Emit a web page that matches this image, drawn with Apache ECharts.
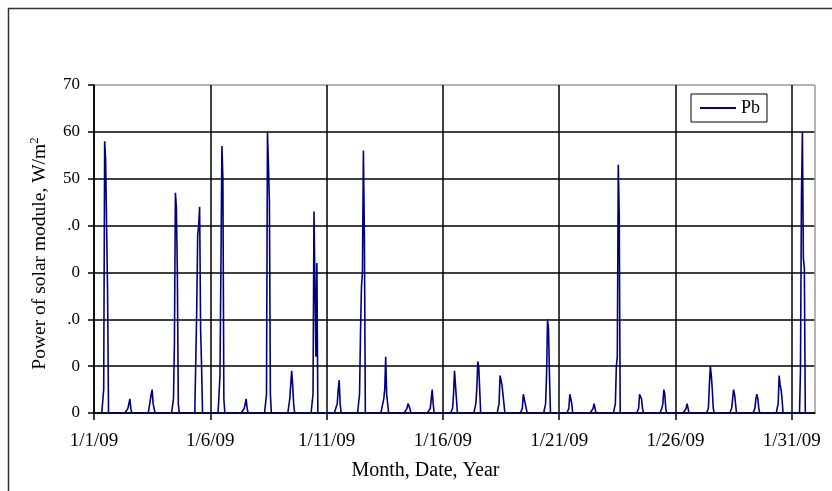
<!DOCTYPE html>
<html>
<head>
<meta charset="utf-8">
<script src="https://cdn.jsdelivr.net/npm/echarts@6/dist/echarts.min.js"></script>
<style>
  html, body { margin: 0; padding: 0; background: #fff; }
  #chart { width: 832px; height: 491px; }
</style>
</head>
<body>
<div id="chart"></div>
<script>
// hours of the day the daily values below belong to
var hours = [9, 10, 11, 12, 13, 14, 15, 16, 17];

// power of solar module (W/m2), one small list per day of January 2009
var pbDaily = [
  [0, 5, 58, 54, 40, 26, 0, 0, 0],   // 1/1
  [0, 0, 1, 1, 3, 1, 0, 0, 0],
  [0, 0, 4, 5, 2, 1, 0, 0, 0],
  [0, 3, 15, 47, 44, 30, 2, 0, 0],
  [0, 22, 38, 40, 44, 18, 10, 0, 0],
  [0, 8, 32, 57, 50, 3, 0, 0, 0],    // 1/6
  [0, 0, 1, 2, 3, 1, 0, 0, 0],
  [0, 4, 60, 53, 45, 4, 0, 0, 0],
  [0, 3, 6, 9, 6, 2, 0, 0, 0],
  [0, 4, 43, 43, 12, 32, 0, 0, 0],
  [0, 0, 2, 5, 7, 2, 0, 0, 0],       // 1/11
  [0, 4, 17, 27, 30, 56, 38, 0, 0],
  [0, 0, 3, 5, 12, 4, 2, 0, 0],
  [0, 0, 1, 2, 2, 1, 0, 0, 0],
  [0, 0, 1, 1, 5, 2, 0, 0, 0],
  [0, 1, 4, 9, 6, 3, 0, 0, 0],       // 1/16
  [0, 2, 5, 11, 10, 5, 0, 0, 0],
  [0, 2, 8, 7, 6, 4, 2, 0, 0],
  [0, 1, 4, 3, 2, 1, 0, 0, 0],
  [0, 2, 8, 20, 18, 8, 0, 0, 0],
  [0, 1, 4, 3, 2, 0, 0, 0, 0],       // 1/21
  [0, 0, 1, 2, 1, 0, 0, 0, 0],
  [0, 2, 10, 12, 53, 42, 0, 0, 0],
  [0, 1, 4, 4, 3, 1, 0, 0, 0],
  [0, 1, 2, 5, 4, 1, 0, 0, 0],
  [0, 0, 1, 2, 1, 0, 0, 0, 0],       // 1/26
  [0, 1, 6, 10, 8, 5, 1, 0, 0],
  [0, 1, 3, 5, 4, 2, 0, 0, 0],
  [0, 1, 3, 4, 3, 1, 0, 0, 0],
  [0, 2, 8, 6, 5, 3, 0, 0, 0],
  [9, 46, 60, 33, 31, 0, 0, 0, 0]    // 1/31
];

// tick labels as printed on the axes
var dateLabels = ['1/1/09', '1/6/09', '1/11/09', '1/16/09', '1/21/09', '1/26/09', '1/31/09'];
var yTickLabels = ['0', '0', '.0', '0', '.0', '50', '60', '70'];

// build [day, value] points, night stays at zero
var seriesData = [];
for (var d = 0; d < pbDaily.length; d++) {
  seriesData.push([d + 8 / 24, 0]);
  for (var i = 0; i < hours.length; i++) {
    seriesData.push([d + hours[i] / 24, pbDaily[d][i]]);
  }
  seriesData.push([d + 18 / 24, 0]);
}

var font = 'Liberation Serif, Times New Roman, serif';
var myChart = echarts.init(document.getElementById('chart'), null, { renderer: 'canvas' });

var option = {
  animation: false,
  backgroundColor: '#fff',
  grid: { left: 94, top: 85, right: 17, bottom: 78, containLabel: false },
  graphic: [{
    type: 'rect',
    shape: { x: 8.5, y: 8.5, width: 900, height: 600 },
    style: { fill: 'none', stroke: '#333', lineWidth: 1.5 },
    silent: true
  }],
  legend: {
    left: 691, top: 94,
    orient: 'vertical',
    backgroundColor: '#fff',
    borderColor: '#000',
    borderWidth: 1,
    padding: [5, 7, 5, 9],
    itemWidth: 36,
    itemHeight: 2,
    itemGap: 4,
    icon: 'rect',
    textStyle: { fontFamily: font, fontSize: 18, color: '#000' },
    data: ['Pb']
  },
  xAxis: {
    type: 'value',
    min: 0, max: 31, interval: 5,
    name: 'Month, Date, Year',
    nameLocation: 'middle',
    nameGap: 48,
    nameTextStyle: { fontFamily: font, fontSize: 20, color: '#000', padding: [0, 58, 0, 0] },
    axisLine: { lineStyle: { color: '#000', width: 1.5 } },
    axisTick: { show: true, inside: false, length: 7, lineStyle: { color: '#000', width: 1.5 } },
    axisLabel: {
      margin: 19,
      fontFamily: font, fontSize: 19, color: '#000',
      showMaxLabel: false,
      formatter: function (v) { return v % 5 === 0 ? dateLabels[v / 5] : ''; }
    },
    splitLine: {
      show: true,
      lineStyle: { color: ['#000', '#000', '#000', '#000', '#000', '#000', '#000', '#9a9a9a'], width: 1.5 }
    }
  },
  yAxis: {
    type: 'value',
    min: 0, max: 70, interval: 10,
    name: 'Power of solar module, W/m{sup|2}',
    nameLocation: 'middle',
    nameGap: 42,
    nameTextStyle: {
      fontFamily: font, fontSize: 19.5, color: '#000', padding: [0, 9, 0, 0],
      rich: { sup: { fontFamily: font, fontSize: 13, color: '#000', padding: [0, 0, 11, 0] } }
    },
    axisLine: { show: true, lineStyle: { color: '#000', width: 1.5 } },
    axisTick: { show: true, inside: false, length: 6, lineStyle: { color: '#000', width: 1.5 } },
    axisLabel: {
      margin: 14,
      fontFamily: font, fontSize: 17, color: '#000',
      formatter: function (v) { return yTickLabels[v / 10]; }
    },
    splitLine: {
      show: true,
      lineStyle: { color: ['#000', '#000', '#000', '#000', '#000', '#000', '#000', '#9a9a9a'], width: 1.5 }
    }
  },
  series: [{
    name: 'Pb',
    type: 'line',
    showSymbol: false,
    color: '#000080',
    lineStyle: { color: '#000080', width: 1.6 },
    data: seriesData
  }]
};

myChart.setOption(option);
</script>
</body>
</html>
